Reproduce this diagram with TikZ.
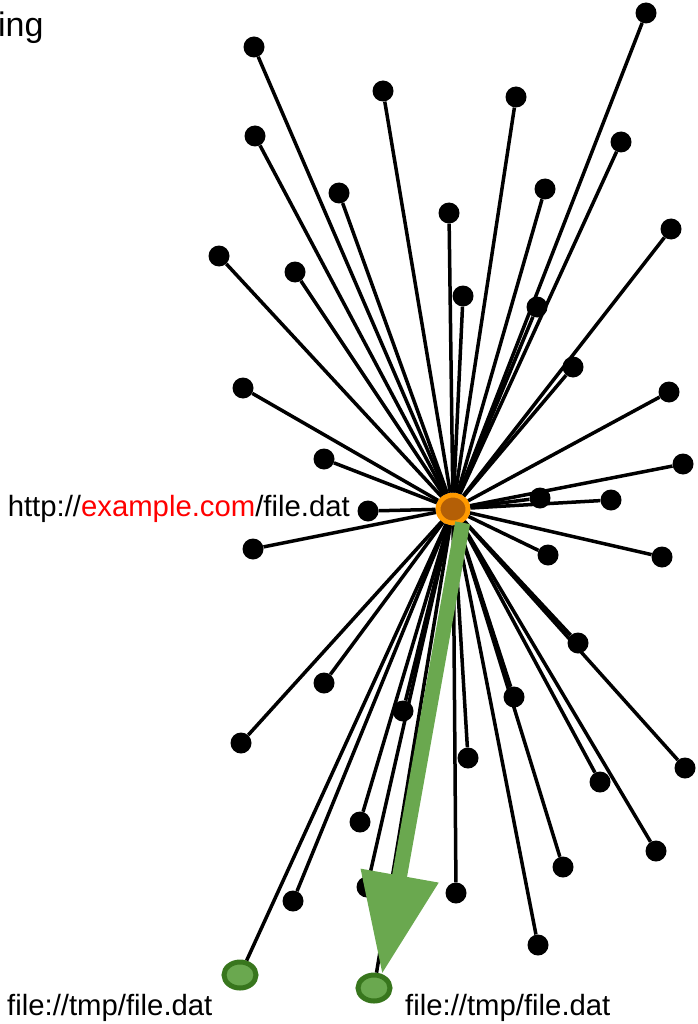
\documentclass[tikz,border=0pt]{standalone}
\usepackage{fontspec}
\setmainfont{Liberation Sans}
\usepackage{xcolor}
\usetikzlibrary{shapes.geometric,arrows.meta}

\definecolor{ringorange}{HTML}{FF9900}
\definecolor{coreorange}{HTML}{B45F06}
\definecolor{fillgreen}{HTML}{6AA84F}
\definecolor{edgegreen}{HTML}{38761D}

\begin{document}
\begin{tikzpicture}[x=1pt,y=-1pt,
        peer/.style={circle,fill=black,minimum size=21pt,inner sep=0pt},
        link/.style={line width=3.5pt},
        src/.style={ellipse,draw=ringorange,fill=coreorange,line width=5pt,minimum width=30pt,minimum height=28pt,inner sep=0pt},
        copy/.style={ellipse,draw=edgegreen,fill=fillgreen,line width=5pt,minimum width=32pt,minimum height=26pt,inner sep=0pt},
        lbl/.style={inner sep=0pt,font=\fontsize{29.3}{34}\selectfont},
        transfer/.style={draw=fillgreen,line width=15pt,-{Triangle[length=100pt,width=75pt]}}]
    \useasboundingbox (0,0) rectangle (697,1024);
        \node (s) [src] at (453,509) {};
        \node (t1) [copy] at (240,975) {};
        \node (t2) [copy] at (374,988) {};
        \node (v0) [peer] at (646,13) {};
        \node (v1) [peer] at (254,47) {};
        \node (v2) [peer] at (383,91) {};
        \node (v3) [peer] at (516,97) {};
        \node (v4) [peer] at (255,136) {};
        \node (v5) [peer] at (621,142) {};
        \node (v6) [peer] at (545,189) {};
        \node (v7) [peer] at (339,193) {};
        \node (v8) [peer] at (449,213) {};
        \node (v9) [peer] at (671,229) {};
        \node (v10) [peer] at (219,256) {};
        \node (v11) [peer] at (295,272) {};
        \node (v12) [peer] at (463,296) {};
        \node (v13) [peer] at (537,307) {};
        \node (v14) [peer] at (573,367) {};
        \node (v15) [peer] at (243,388) {};
        \node (v16) [peer] at (669,392) {};
        \node (v17) [peer] at (324,459) {};
        \node (v18) [peer] at (683,464) {};
        \node (v19) [peer] at (540,498) {};
        \node (v20) [peer] at (611,500) {};
        \node (v21) [peer] at (368,511) {};
        \node (v22) [peer] at (253,549) {};
        \node (v23) [peer] at (548,555) {};
        \node (v24) [peer] at (662,557) {};
        \node (v25) [peer] at (578,643) {};
        \node (v26) [peer] at (324,683) {};
        \node (v27) [peer] at (514,697) {};
        \node (v28) [peer] at (403,711) {};
        \node (v29) [peer] at (241,743) {};
        \node (v30) [peer] at (468,758) {};
        \node (v31) [peer] at (685,768) {};
        \node (v32) [peer] at (600,782) {};
        \node (v33) [peer] at (360,822) {};
        \node (v34) [peer] at (656,851) {};
        \node (v35) [peer] at (563,867) {};
        \node (v36) [peer] at (367,887) {};
        \node (v37) [peer] at (456,893) {};
        \node (v38) [peer] at (293,901) {};
        \node (v39) [peer] at (538,945) {};
        % swarm links
        \draw [link] (s) -- (v0);
        \draw [link] (s) -- (v1);
        \draw [link] (s) -- (v2);
        \draw [link] (s) -- (v3);
        \draw [link] (s) -- (v4);
        \draw [link] (s) -- (v5);
        \draw [link] (s) -- (v6);
        \draw [link] (s) -- (v7);
        \draw [link] (s) -- (v8);
        \draw [link] (s) -- (v9);
        \draw [link] (s) -- (v10);
        \draw [link] (s) -- (v11);
        \draw [link] (s) -- (v12);
        \draw [link] (s) -- (v13);
        \draw [link] (s) -- (v14);
        \draw [link] (s) -- (v15);
        \draw [link] (s) -- (v16);
        \draw [link] (s) -- (v17);
        \draw [link] (s) -- (v18);
        \draw [link] (s) -- (v19);
        \draw [link] (s) -- (v20);
        \draw [link] (s) -- (v21);
        \draw [link] (s) -- (v22);
        \draw [link] (s) -- (v23);
        \draw [link] (s) -- (v24);
        \draw [link] (s) -- (v25);
        \draw [link] (s) -- (v26);
        \draw [link] (s) -- (v27);
        \draw [link] (s) -- (v28);
        \draw [link] (s) -- (v29);
        \draw [link] (s) -- (v30);
        \draw [link] (s) -- (v31);
        \draw [link] (s) -- (v32);
        \draw [link] (s) -- (v33);
        \draw [link] (s) -- (v34);
        \draw [link] (s) -- (v35);
        \draw [link] (s) -- (v36);
        \draw [link] (s) -- (v37);
        \draw [link] (s) -- (v38);
        \draw [link] (s) -- (v39);
        \draw [link] (s) -- (t1);
        \draw [link] (s) -- (t2);
        % the download
        \draw [transfer] (s.-55) -- (t2.60);
        % labels
        \node (title) [lbl,font=\fontsize{34}{40}\selectfont,anchor=base west] at (-2,37) {ing};
        \node (url) [lbl,anchor=base east] at (350,516) {http://\textcolor{red}{example.com}/file.dat};
        \node (f1) [lbl,anchor=base west] at (7,1015) {file://tmp/file.dat};
        \node (f2) [lbl,anchor=base west] at (405,1015) {file://tmp/file.dat};
    \end{tikzpicture}
\end{document}
